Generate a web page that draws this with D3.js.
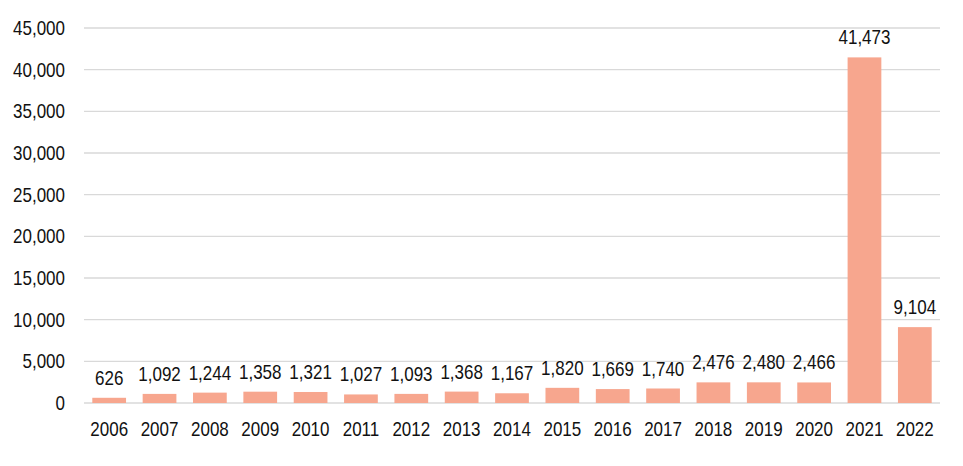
<!DOCTYPE html>
<html><head><meta charset="utf-8">
<script src="https://cdn.jsdelivr.net/npm/d3@7"></script>
<style>body{margin:0;background:#fff;} svg text{font-family:"Liberation Sans",Arial,sans-serif;fill:#111;}</style>
</head><body>
<svg id="c" width="963" height="466"></svg>
<script>
const years = ["2006","2007","2008","2009","2010","2011","2012","2013","2014","2015","2016","2017","2018","2019","2020","2021","2022"];
const values = [626,1092,1244,1358,1321,1027,1093,1368,1167,1820,1669,1740,2476,2480,2466,41473,9104];
const yTicks = [0,5000,10000,15000,20000,25000,30000,35000,40000,45000];

(function(){
const svg = d3.select("#c");
const mLeft = 84, mRight = 940, mTop = 28, mBottom = 403;
const x = d3.scaleBand().domain(years).range([mLeft, mRight]).paddingInner(0.33).paddingOuter(0.165);
const y = d3.scaleLinear().domain([0, 45000]).range([mBottom, mTop]);
const fmt = d3.format(",");
const fs = 20, sx = 0.85;
const tr = (px, py) => `translate(${px},${py}) scale(${sx},1)`;

svg.append("g").selectAll("line").data(yTicks).join("line")
  .attr("x1", mLeft).attr("x2", mRight)
  .attr("y1", d => y(d)).attr("y2", d => y(d))
  .attr("stroke", "#d9d9d9").attr("stroke-width", 1.3);

svg.append("g").selectAll("text").data(yTicks).join("text")
  .attr("transform", d => tr(65, y(d) + 7))
  .attr("text-anchor", "end").attr("font-size", fs)
  .text(d => fmt(d));

svg.append("g").selectAll("rect").data(values).join("rect")
  .attr("x", (d,i) => x(years[i])).attr("width", x.bandwidth())
  .attr("y", d => y(d)).attr("height", d => y(0) - y(d))
  .attr("fill", "#F7A68E");

svg.append("g").selectAll("text").data(values).join("text")
  .attr("transform", (d,i) => tr(x(years[i]) + x.bandwidth()/2, y(d) - 13))
  .attr("text-anchor", "middle").attr("font-size", fs)
  .text(d => fmt(d));

svg.append("g").selectAll("text").data(years).join("text")
  .attr("transform", d => tr(x(d) + x.bandwidth()/2, 436))
  .attr("text-anchor", "middle").attr("font-size", fs)
  .text(d => d);
})();
</script>
</body></html>
